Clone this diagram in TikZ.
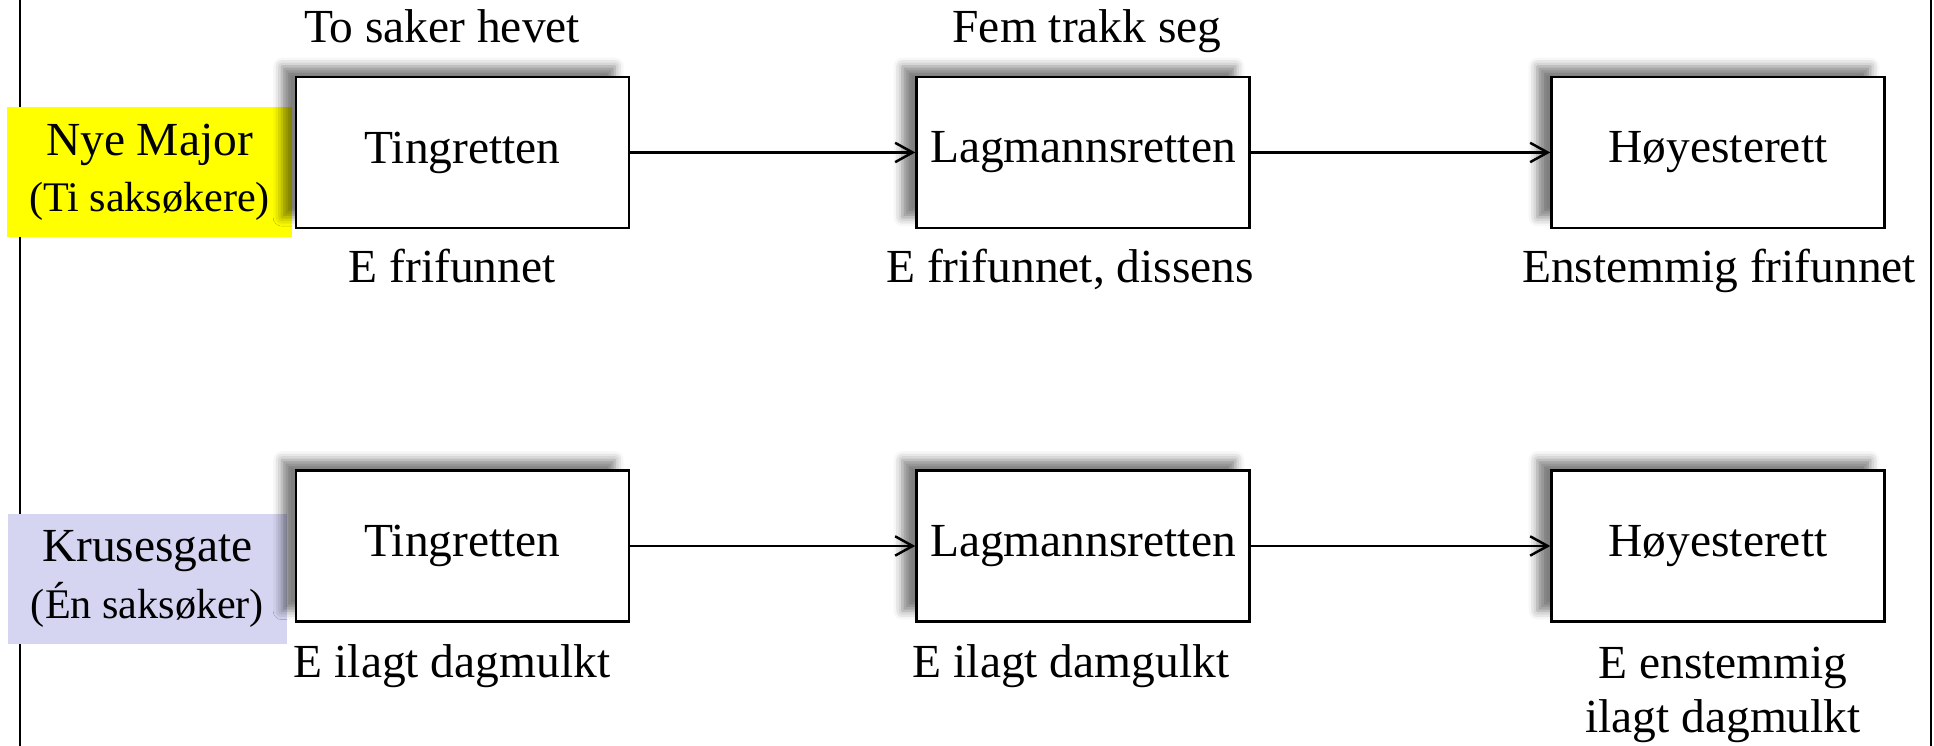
\documentclass[tikz,border=0pt]{standalone}
\usepackage{fontspec}
\setmainfont{Liberation Serif}
\usetikzlibrary{arrows.meta,shadows.blur}

\tikzset{
    courtBox/.style={draw, line width=0.7pt, fill=white, minimum width=3.33cm, minimum height=1.51cm,
        blur shadow={shadow xshift=-4pt, shadow yshift=3pt, shadow blur radius=2.5pt, shadow opacity=50},
        font=\fontsize{13.5}{16.2}\selectfont},
    partyBox/.style={inner sep=0pt, align=center, font=\fontsize{13.5}{16}\selectfont},
    verdict/.style={anchor=base, align=center, font=\fontsize{13.5}{15.6}\selectfont},
    appeal/.style={line width=0.7pt, -{Straight Barb[length=5pt,width=5.5pt]}}
}

\begin{document}
\begin{tikzpicture}
    \def\rowA{5.935}
    \def\rowB{2.00}

    \definecolor{majorColour}{RGB}{255,255,0}
    \definecolor{krusesColour}{RGB}{213,213,242}

    \useasboundingbox (0,0) rectangle (19.34,7.46);

    % Side rules
    \draw[line width=0.7pt] (0.20,0) -- (0.20,7.46);
    \draw[line width=0.7pt] (19.31,0) -- (19.31,7.46);

    % Nye Major
    \node[partyBox, fill=majorColour, minimum width=2.85cm, minimum height=1.30cm] (major) at (1.495,5.74)
        {Nye Major\\\fontsize{12}{14.5}\selectfont(Ti saksøkere)};
    \node[courtBox] (tingA) at (4.625,\rowA) {Tingretten};
    \node[courtBox] (lagA) at (10.83,\rowA) {Lagmannsretten};
    \node[courtBox] (hoyA) at (17.18,\rowA) {Høyesterett};
    \draw[appeal] (tingA) -- (lagA);
    \draw[appeal] (lagA) -- (hoyA);

    \node[verdict] (hevet) at (4.42,7.03) {To saker hevet};
    \node[verdict] (trakk) at (10.87,7.03) {Fem trakk seg};
    \node[verdict] (tingAres) at (4.52,4.63) {E frifunnet};
    \node[verdict] (lagAres) at (10.70,4.63) {E frifunnet, dissens};
    \node[verdict] (hoyAres) at (17.19,4.63) {Enstemmig frifunnet};

    % Krusesgate
    \node[partyBox, fill=krusesColour, minimum width=2.79cm, minimum height=1.30cm] (kruses) at (1.475,1.67)
        {Krusesgate\\\fontsize{12}{14.5}\selectfont(Én saksøker)};
    \node[courtBox] (tingB) at (4.625,\rowB) {Tingretten};
    \node[courtBox] (lagB) at (10.83,\rowB) {Lagmannsretten};
    \node[courtBox] (hoyB) at (17.18,\rowB) {Høyesterett};
    \draw[appeal] (tingB) -- (lagB);
    \draw[appeal] (lagB) -- (hoyB);

    \node[verdict] (tingBres) at (4.52,0.68) {E ilagt dagmulkt};
    \node[verdict] (lagBres) at (10.71,0.68) {E ilagt damgulkt};
    % two lines: base sits on the last one
    \node[verdict] (hoyBres) at (17.23,0.13) {E enstemmig\\ilagt dagmulkt};

\end{tikzpicture}
\end{document}
